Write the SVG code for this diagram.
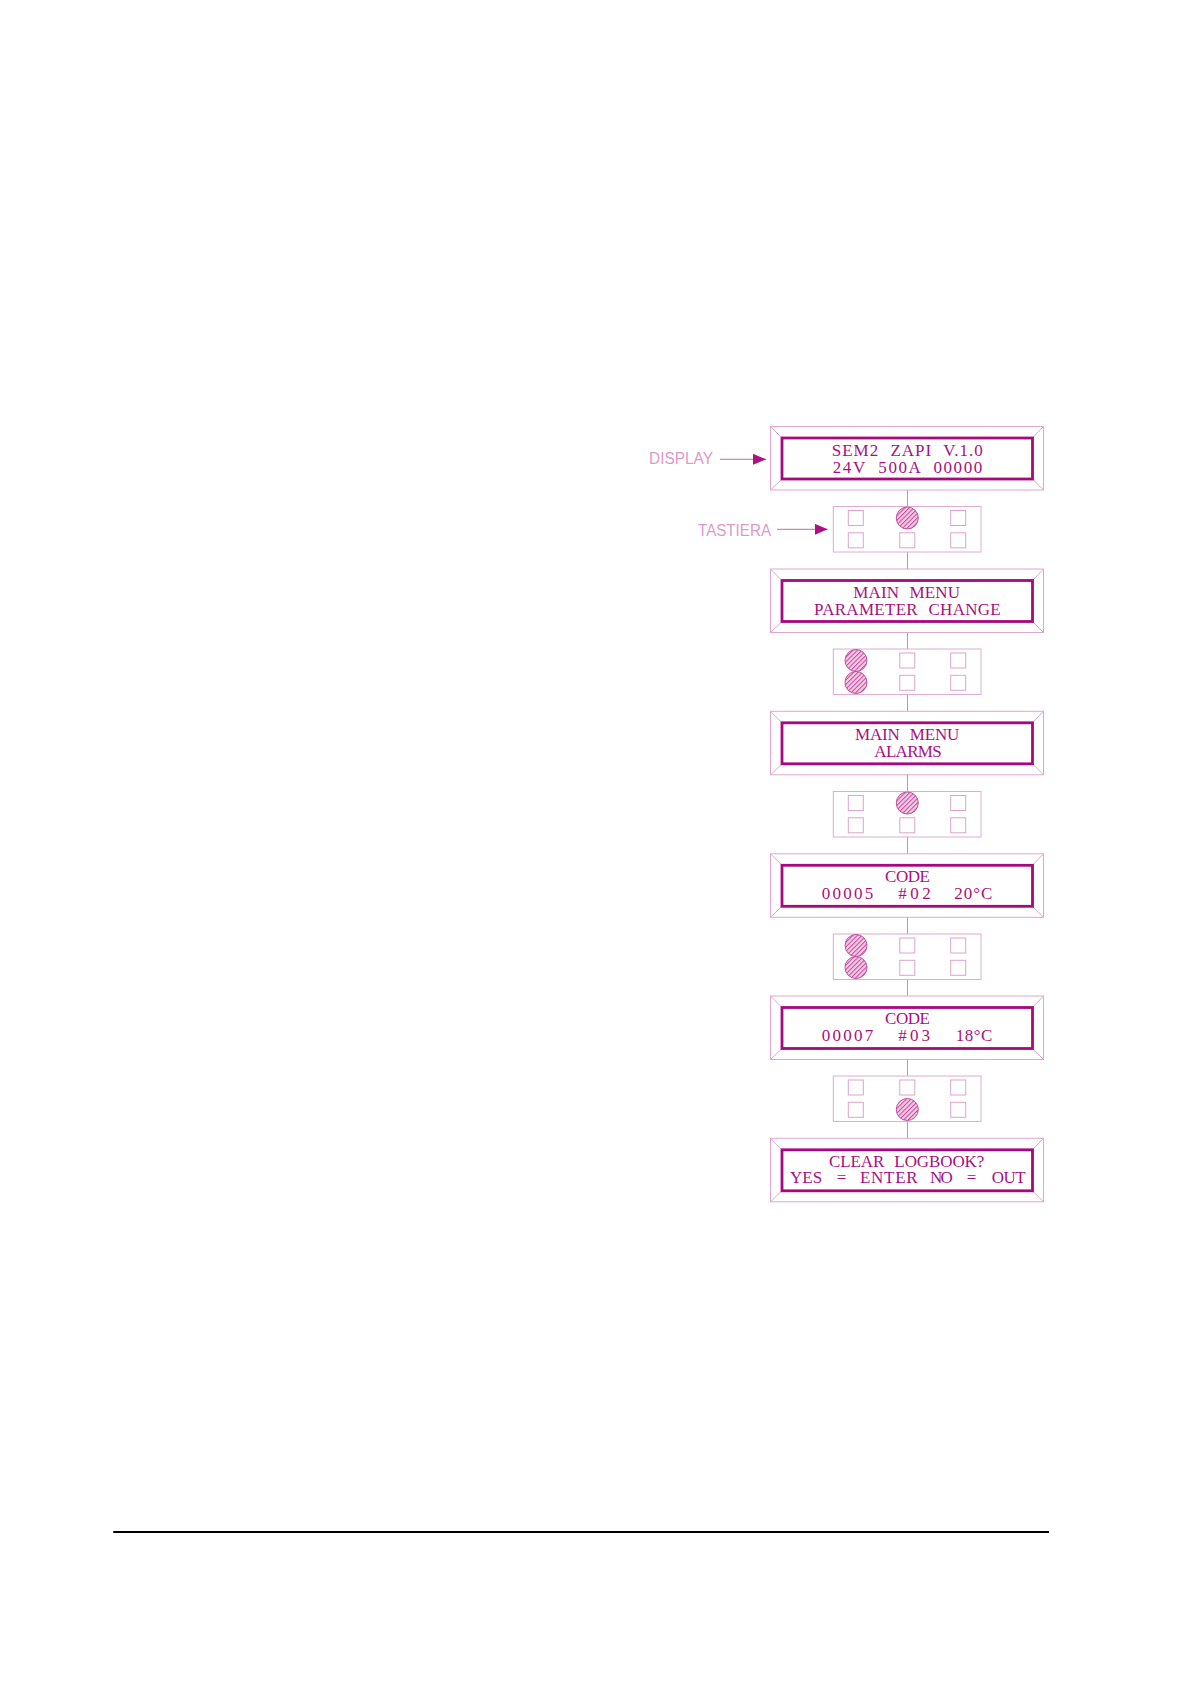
<svg xmlns="http://www.w3.org/2000/svg" width="1190" height="1684" viewBox="0 0 1190 1684">
<style>
.outer{fill:none;stroke:#e0a6d0;stroke-width:1}
.inner{fill:none;stroke:#a8087e;stroke-width:2.8}
.kp{fill:none;stroke:#e0acd2;stroke-width:1}
.key{fill:none;stroke:#dca4cc;stroke-width:1}
.press{fill:url(#hatch);stroke:#c0509e;stroke-width:1}
.conn{fill:none;stroke:#c890b4;stroke-width:1}
.lcd{font-family:"Liberation Serif","Times New Roman",serif;font-size:17px;fill:#a8107e;word-spacing:6px}
.lbl{font-family:"Liberation Sans",Arial,sans-serif;font-size:16px;fill:#dc9ac8}
.arr{fill:none;stroke:#c86aaa;stroke-width:1}
</style>
<defs>
<pattern id="hatch" patternUnits="userSpaceOnUse" width="3.2" height="3.2" patternTransform="rotate(45)">
<rect width="3.2" height="3.2" fill="#f3c8e4"/>
<line x1="0.5" y1="0" x2="0.5" y2="3.2" stroke="#c03e96" stroke-width="0.9"/>
</pattern>
<marker id="ah" markerUnits="userSpaceOnUse" markerWidth="14" markerHeight="12" refX="13" refY="5.5" orient="auto">
<path d="M0,0 L13,5.5 L0,11 Z" fill="#b0107f"/>
</marker>
</defs>
<rect width="1190" height="1684" fill="#ffffff"/>

<g id="connectors">
<line class="arr" x1="720" y1="459.3" x2="766" y2="459.3" marker-end="url(#ah)"/>
<line class="arr" x1="777" y1="529.3" x2="827.7" y2="529.3" marker-end="url(#ah)"/>
<line class="conn" x1="907.5" y1="490" x2="907.5" y2="506.5"/>
<line class="conn" x1="907.5" y1="552" x2="907.5" y2="569"/>
<line class="conn" x1="907.5" y1="632.5" x2="907.5" y2="649"/>
<line class="conn" x1="907.5" y1="694.5" x2="907.5" y2="711.3"/>
<line class="conn" x1="907.5" y1="774.8" x2="907.5" y2="791.5"/>
<line class="conn" x1="907.5" y1="837" x2="907.5" y2="853.8"/>
<line class="conn" x1="907.5" y1="917.3" x2="907.5" y2="934"/>
<line class="conn" x1="907.5" y1="979.5" x2="907.5" y2="996"/>
<line class="conn" x1="907.5" y1="1059.5" x2="907.5" y2="1076"/>
<line class="conn" x1="907.5" y1="1121.5" x2="907.5" y2="1138.3"/>
</g>

<g id="label-display"><text class="lbl" x="649" y="464" textLength="64" lengthAdjust="spacingAndGlyphs">DISPLAY</text></g>
<g id="label-tastiera"><text class="lbl" x="698" y="535.5" textLength="73" lengthAdjust="spacingAndGlyphs">TASTIERA</text></g>

<g id="display1">
<rect class="outer" x="770.5" y="426.5" width="273" height="63.5"/>
<path class="outer" d="M770.5,426.5 L782,438 M1043.5,426.5 L1032.5,438 M770.5,490 L782,479 M1043.5,490 L1032.5,479"/>
<rect class="inner" x="782" y="438" width="250.5" height="41"/>
<text class="lcd" x="831.7" y="455.6" textLength="151" lengthAdjust="spacing">SEM2 ZAPI V.1.0</text>
<text class="lcd" x="832.7" y="472.6" textLength="149.6" lengthAdjust="spacing">24V 500A 00000</text>
</g>

<g id="keypad1">
<rect class="kp" x="833.3" y="506.5" width="147.7" height="45.5"/>
<rect class="key" x="848.3" y="510.5" width="15" height="15"/>
<circle class="press" cx="907.3" cy="518" r="11"/>
<rect class="key" x="950.7" y="510.5" width="15" height="15"/>
<rect class="key" x="848.3" y="532.8" width="15" height="15"/>
<rect class="key" x="899.8" y="532.8" width="15" height="15"/>
<rect class="key" x="950.7" y="532.8" width="15" height="15"/>
</g>

<g id="display2">
<rect class="outer" x="770.5" y="569" width="273" height="63.5"/>
<path class="outer" d="M770.5,569 L782,580.5 M1043.5,569 L1032.5,580.5 M770.5,632.5 L782,621.5 M1043.5,632.5 L1032.5,621.5"/>
<rect class="inner" x="782" y="580.5" width="250.5" height="41"/>
<text class="lcd" x="853.3" y="598" textLength="106.7" lengthAdjust="spacing">MAIN MENU</text>
<text class="lcd" x="814" y="614.9" textLength="186.7" lengthAdjust="spacing">PARAMETER CHANGE</text>
</g>

<g id="keypad2">
<rect class="kp" x="833.3" y="649" width="147.7" height="45.5"/>
<circle class="press" cx="856" cy="660.5" r="11"/>
<rect class="key" x="899.8" y="653" width="15" height="15"/>
<rect class="key" x="950.7" y="653" width="15" height="15"/>
<circle class="press" cx="856" cy="682.5" r="11"/>
<rect class="key" x="899.8" y="675.3" width="15" height="15"/>
<rect class="key" x="950.7" y="675.3" width="15" height="15"/>
</g>

<g id="display3">
<rect class="outer" x="770.5" y="711.3" width="273" height="63.5"/>
<path class="outer" d="M770.5,711.3 L782,722.8 M1043.5,711.3 L1032.5,722.8 M770.5,774.8 L782,763.8 M1043.5,774.8 L1032.5,763.8"/>
<rect class="inner" x="782" y="722.8" width="250.5" height="41"/>
<text class="lcd" x="855" y="740.1" textLength="104.3" lengthAdjust="spacing">MAIN MENU</text>
<text class="lcd" x="874.3" y="757.2" textLength="67.4" lengthAdjust="spacing">ALARMS</text>
</g>

<g id="keypad3">
<rect class="kp" x="833.3" y="791.5" width="147.7" height="45.5"/>
<rect class="key" x="848.3" y="795.5" width="15" height="15"/>
<circle class="press" cx="907.3" cy="803" r="11"/>
<rect class="key" x="950.7" y="795.5" width="15" height="15"/>
<rect class="key" x="848.3" y="817.8" width="15" height="15"/>
<rect class="key" x="899.8" y="817.8" width="15" height="15"/>
<rect class="key" x="950.7" y="817.8" width="15" height="15"/>
</g>

<g id="display4">
<rect class="outer" x="770.5" y="853.8" width="273" height="63.5"/>
<path class="outer" d="M770.5,853.8 L782,865.3 M1043.5,853.8 L1032.5,865.3 M770.5,917.3 L782,906.3 M1043.5,917.3 L1032.5,906.3"/>
<rect class="inner" x="782" y="865.3" width="250.5" height="41"/>
<text class="lcd" x="885" y="882.3" textLength="45" lengthAdjust="spacing">CODE</text>
<text class="lcd" y="899.3"><tspan x="821.7" textLength="51.6" lengthAdjust="spacing">00005</tspan><tspan x="898.3" textLength="32.4" lengthAdjust="spacing">#02</tspan><tspan x="954.3" textLength="38" lengthAdjust="spacing">20°C</tspan></text>
</g>

<g id="keypad4">
<rect class="kp" x="833.3" y="934" width="147.7" height="45.5"/>
<circle class="press" cx="856" cy="945.5" r="11"/>
<rect class="key" x="899.8" y="938" width="15" height="15"/>
<rect class="key" x="950.7" y="938" width="15" height="15"/>
<circle class="press" cx="856" cy="967.5" r="11"/>
<rect class="key" x="899.8" y="960.3" width="15" height="15"/>
<rect class="key" x="950.7" y="960.3" width="15" height="15"/>
</g>

<g id="display5">
<rect class="outer" x="770.5" y="996" width="273" height="63.5"/>
<path class="outer" d="M770.5,996 L782,1007.5 M1043.5,996 L1032.5,1007.5 M770.5,1059.5 L782,1048.5 M1043.5,1059.5 L1032.5,1048.5"/>
<rect class="inner" x="782" y="1007.5" width="250.5" height="41"/>
<text class="lcd" x="885" y="1024.4" textLength="45" lengthAdjust="spacing">CODE</text>
<text class="lcd" y="1041.2"><tspan x="821.7" textLength="51.6" lengthAdjust="spacing">00007</tspan><tspan x="898.3" textLength="31.7" lengthAdjust="spacing">#03</tspan><tspan x="955.7" textLength="36.6" lengthAdjust="spacing">18°C</tspan></text>
</g>

<g id="keypad5">
<rect class="kp" x="833.3" y="1076" width="147.7" height="45.5"/>
<rect class="key" x="848.3" y="1080" width="15" height="15"/>
<rect class="key" x="899.8" y="1080" width="15" height="15"/>
<rect class="key" x="950.7" y="1080" width="15" height="15"/>
<rect class="key" x="848.3" y="1102.3" width="15" height="15"/>
<circle class="press" cx="907.3" cy="1109.5" r="11"/>
<rect class="key" x="950.7" y="1102.3" width="15" height="15"/>
</g>

<g id="display6">
<rect class="outer" x="770.5" y="1138.3" width="273" height="63.5"/>
<path class="outer" d="M770.5,1138.3 L782,1149.8 M1043.5,1138.3 L1032.5,1149.8 M770.5,1201.8 L782,1190.8 M1043.5,1201.8 L1032.5,1190.8"/>
<rect class="inner" x="782" y="1149.8" width="250.5" height="41"/>
<text class="lcd" x="829" y="1166.8" textLength="155.3" lengthAdjust="spacing">CLEAR LOGBOOK?</text>
<text class="lcd" y="1183.4"><tspan x="790" textLength="32.3" lengthAdjust="spacing">YES</tspan><tspan x="836.7" textLength="10.7" lengthAdjust="spacing">=</tspan><tspan x="860" textLength="57.7" lengthAdjust="spacing">ENTER</tspan><tspan x="930" textLength="22.7" lengthAdjust="spacing">NO</tspan><tspan x="966.7" textLength="10.7" lengthAdjust="spacing">=</tspan><tspan x="991.7" textLength="34" lengthAdjust="spacing">OUT</tspan></text>
</g>

<line x1="113.3" y1="1532" x2="1049" y2="1532" stroke="#000000" stroke-width="2.2"/>
</svg>
